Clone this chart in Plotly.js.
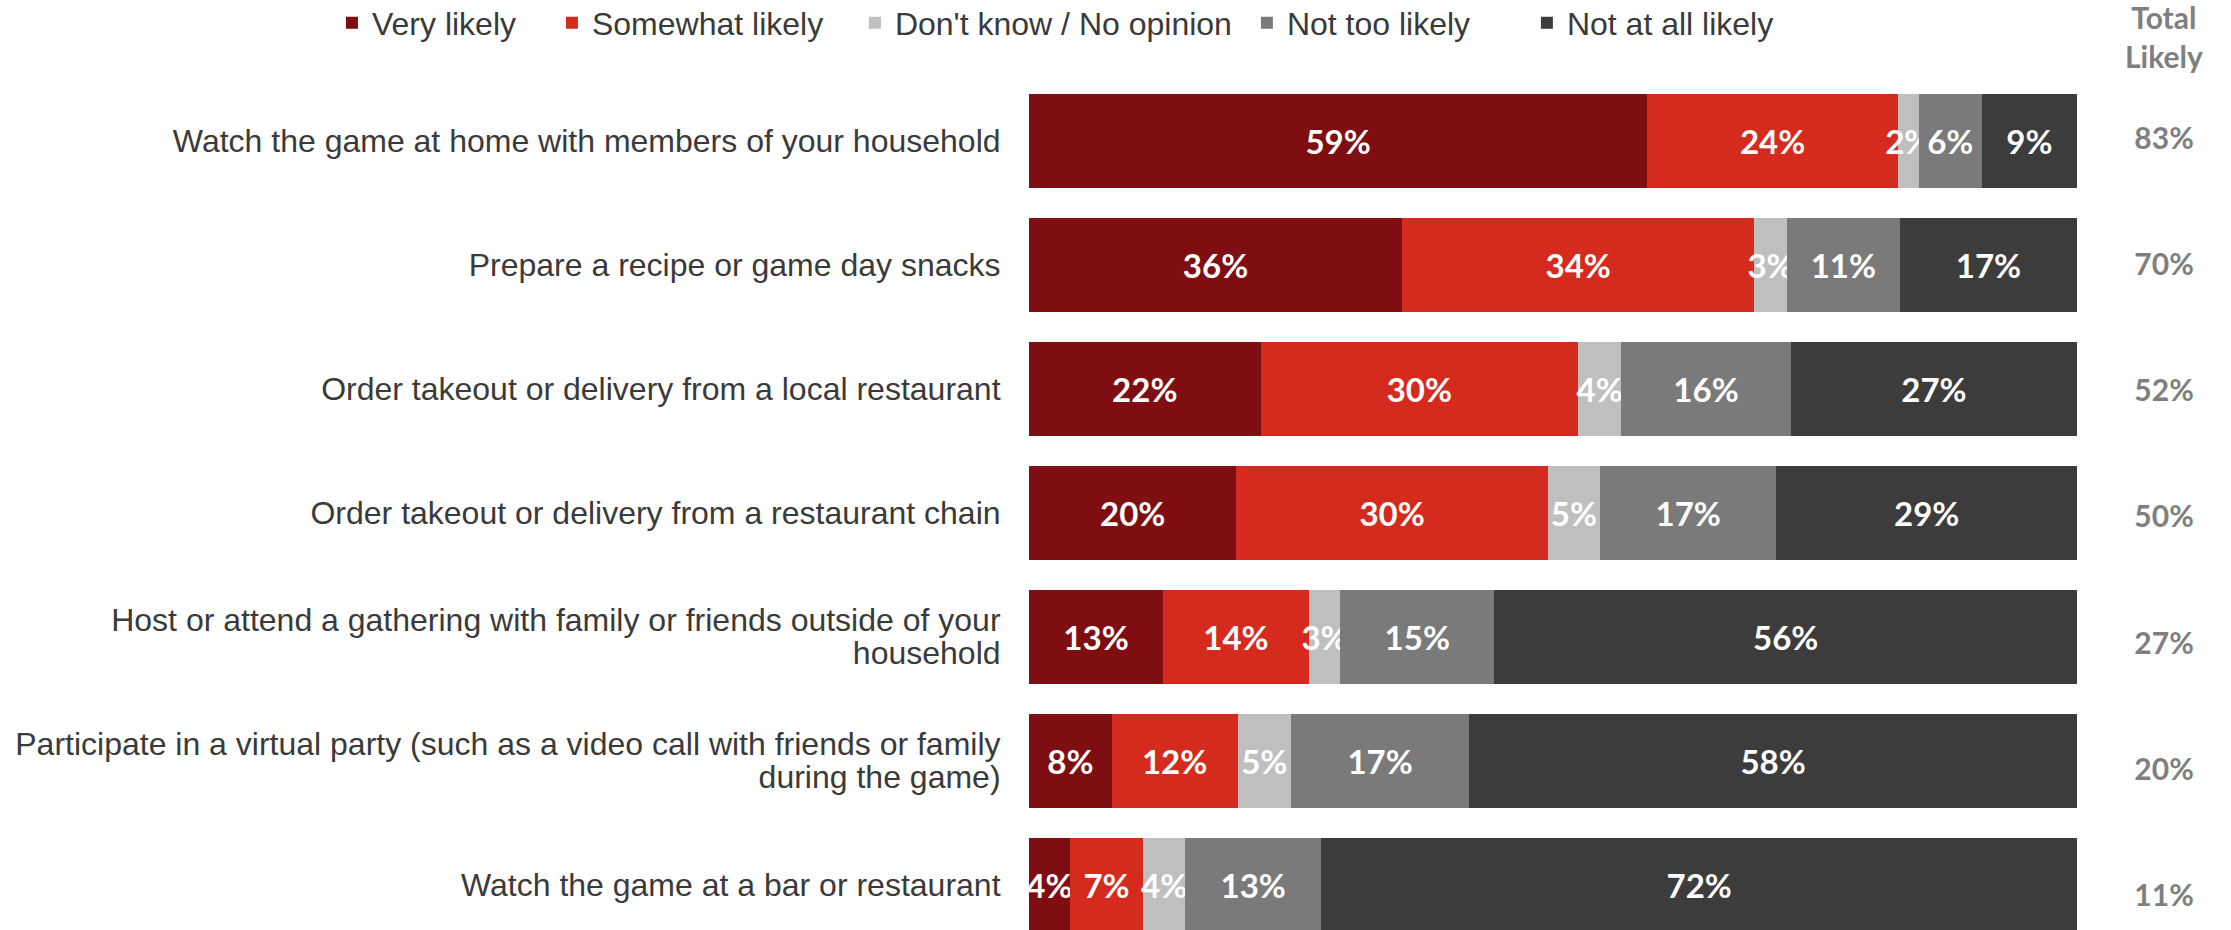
<!DOCTYPE html>
<html>
<head>
<meta charset="utf-8">
<script src="https://cdn.plot.ly/plotly-3.0.1.min.js"></script>
<style>
  html, body { margin: 0; padding: 0; background: #ffffff; }
  #chart { width: 2231px; height: 930px; }
</style>
</head>
<body>
<div id="chart"></div>
<script>
const categories = [
  "Watch the game at home with members of your household",
  "Prepare a recipe or game day snacks",
  "Order takeout or delivery from a local restaurant",
  "Order takeout or delivery from a restaurant chain",
  "Host or attend a gathering with family or friends outside of your<br>household",
  "Participate in a virtual party (such as a video call with friends or family<br>during the game)",
  "Watch the game at a bar or restaurant"
];
const seriesNames = ["Very likely", "Somewhat likely", "Don't know / No opinion", "Not too likely", "Not at all likely"];
const veryLikely     = [59.0, 35.6, 22.1, 19.8, 12.8, 7.9, 3.9];
const somewhatLikely = [23.9, 33.6, 30.3, 29.7, 13.9, 12.0, 7.0];
const dontKnow       = [2.0, 3.1, 4.1, 5.0, 3.0, 5.1, 4.0];
const notTooLikely   = [6.0, 10.8, 16.2, 16.8, 14.7, 17.0, 13.0];
const notAtAllLikely = [9.1, 16.9, 27.3, 28.7, 55.6, 58.0, 72.1];
const totalLikely    = [83, 70, 52, 50, 27, 20, 11];
const totalHeader = "Total<br>Likely";

const seriesValues = [veryLikely, somewhatLikely, dontKnow, notTooLikely, notAtAllLikely];
const colors = ["#7e0e11", "#d52b1e", "#bfbfbf", "#7a7a7a", "#3c3c3c"];
const legendIds = ["legend", "legend2", "legend3", "legend4", "legend5"];
const legendX = [0.1488, 0.2474, 0.3832, 0.5589, 0.6844];

const labelFont = { family: "Lato, 'Open Sans', sans-serif", size: 33, color: "#ffffff", weight: 700 };
const textFont = { family: "'Liberation Sans', Arial, sans-serif", size: 32, color: "#3a3a3a" };
const greyFont = { family: "Lato, 'Open Sans', sans-serif", size: 30, color: "#7f7f7f", weight: 700 };

const traces = seriesValues.map((vals, i) => ({
  type: "bar",
  orientation: "h",
  name: seriesNames[i],
  x: vals,
  y: categories,
  xaxis: "x",
  yaxis: "y",
  legend: legendIds[i],
  marker: { color: colors[i], line: { width: 0 } },
  texttemplate: "%{x:.0f}%",
  textposition: "inside",
  insidetextanchor: "middle",
  textangle: 0,
  insidetextfont: labelFont,
  hoverinfo: "skip"
}));

traces.push({
  type: "scatter",
  mode: "text",
  x: categories.map(() => 0.5),
  y: categories,
  xaxis: "x2",
  yaxis: "y2",
  text: totalLikely.map(v => v + "%"),
  textposition: "middle center",
  textfont: greyFont,
  showlegend: false,
  cliponaxis: false,
  hoverinfo: "skip"
});

const layout = {
  width: 2231,
  height: 930,
  margin: { l: 0, r: 0, t: 79, b: 0, autoexpand: false },
  paper_bgcolor: "#ffffff",
  plot_bgcolor: "#ffffff",
  barmode: "stack",
  bargap: 0.242,
  uniformtext: { mode: "show", minsize: 33 },
  font: textFont,
  xaxis: {
    domain: [0.4612, 0.9310],
    range: [0, 100],
    visible: false,
    fixedrange: true
  },
  yaxis: {
    type: "category",
    anchor: "x",
    range: [6.363, -0.5],
    showgrid: false,
    zeroline: false,
    showline: false,
    ticks: "outside",
    ticklen: 21,
    tickcolor: "rgba(0,0,0,0)",
    tickfont: textFont,
    automargin: false
  },
  xaxis2: {
    domain: [0.94, 1.0],
    range: [0, 1],
    anchor: "y2",
    visible: false
  },
  yaxis2: {
    type: "category",
    anchor: "x2",
    range: [6.247, -0.491],
    visible: false
  },
  annotations: [{
    text: totalHeader,
    xref: "paper", yref: "paper",
    x: 0.97, y: 1.0505,
    xanchor: "center", yanchor: "middle",
    showarrow: false,
    font: greyFont
  }],
  showlegend: true
};

legendIds.forEach((id, i) => {
  layout[id] = {
    orientation: "h",
    x: legendX[i],
    xanchor: "left",
    xref: "paper",
    y: 1.0981,
    yref: "paper",
    yanchor: "top",
    bgcolor: "rgba(0,0,0,0)",
    font: textFont,
    itemclick: false,
    itemdoubleclick: false
  };
});

Plotly.newPlot("chart", traces, layout, { displayModeBar: false, staticPlot: true }).then(gd => {
  // tighten line spacing of two-line category labels to match the reference
  gd.querySelectorAll(".ytick text").forEach(t => {
    const lines = t.querySelectorAll("tspan.line");
    if (lines.length > 1) {
      lines.forEach((ln, k) => ln.setAttribute("dy", k === 0 ? "0.1em" : "1.13em"));
    }
  });
});
</script>
</body>
</html>
